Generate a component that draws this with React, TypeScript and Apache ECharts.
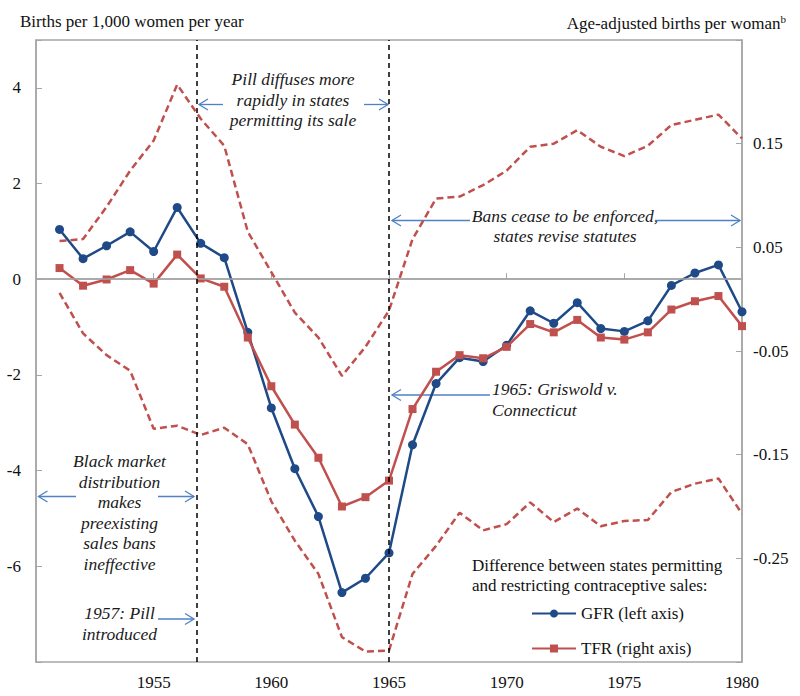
import React, { useEffect, useRef } from "react";
import * as echarts from "echarts";

const years = [1951, 1952, 1953, 1954, 1955, 1956, 1957, 1958, 1959, 1960, 1961, 1962, 1963, 1964, 1965, 1966, 1967, 1968, 1969, 1970, 1971, 1972, 1973, 1974, 1975, 1976, 1977, 1978, 1979, 1980];
const gfr = [1.04, 0.43, 0.70, 0.99, 0.58, 1.50, 0.75, 0.45, -1.11, -2.69, -3.96, -4.96, -6.55, -6.25, -5.72, -3.46, -2.18, -1.64, -1.72, -1.38, -0.66, -0.92, -0.49, -1.03, -1.09, -0.87, -0.13, 0.13, 0.30, -0.68];
const tfr = [0.030, 0.013, 0.019, 0.028, 0.015, 0.043, 0.020, 0.012, -0.037, -0.084, -0.121, -0.153, -0.200, -0.191, -0.175, -0.106, -0.070, -0.054, -0.057, -0.046, -0.024, -0.032, -0.020, -0.037, -0.039, -0.032, -0.010, -0.002, 0.003, -0.026];
const tfrUpper = [0.056, 0.058, 0.089, 0.124, 0.153, 0.207, 0.174, 0.148, 0.065, 0.026, -0.013, -0.037, -0.074, -0.046, -0.011, 0.058, 0.097, 0.099, 0.110, 0.124, 0.147, 0.150, 0.163, 0.147, 0.138, 0.148, 0.168, 0.173, 0.178, 0.155];
const tfrLower = [0.006, -0.033, -0.054, -0.069, -0.125, -0.122, -0.131, -0.124, -0.140, -0.195, -0.233, -0.265, -0.326, -0.340, -0.339, -0.265, -0.238, -0.206, -0.223, -0.217, -0.196, -0.215, -0.202, -0.219, -0.214, -0.213, -0.186, -0.178, -0.173, -0.207];
const eventYears = [1956.85, 1965];

const FONT = "Liberation Serif";
const FS = 17;
const RED = "#c0504d";
const BLUE = "#1f4a87";
const GRAY = "#a6a6a6";
const ARROW = "#4f81c7";

// right axis is drawn in hundredths, shifted by 0.05 so that ticks fall on -0.35, -0.25, ... 0.25
const toRight = (v: number) => v * 100 + 5;
const fromRight = (v: number) => (v - 5) / 100;

function arrow(x1: number, y1: number, x2: number, y2: number) {
  const d = x2 > x1 ? 1 : -1;
  return [
    { type: "line", silent: true, shape: { x1, y1, x2, y2 }, style: { stroke: ARROW, lineWidth: 1.3 } },
    {
      type: "polyline",
      silent: true,
      shape: { points: [[x2 - d * 9, y2 - 5.5], [x2, y2], [x2 - d * 9, y2 + 5.5]] },
      style: { stroke: ARROW, lineWidth: 1.3, fill: null },
    },
  ];
}

function note(text: string, x: number, y: number, align: string) {
  return {
    type: "text",
    silent: true,
    x,
    y,
    style: {
      text,
      fill: "#1a1a1a",
      fontFamily: FONT,
      fontSize: 17.5,
      fontStyle: "italic",
      lineHeight: 20.5,
      textAlign: align,
      textVerticalAlign: "top",
      verticalAlign: "top",
    },
  };
}

export default function App() {
  const ref = useRef<HTMLDivElement>(null);
  useEffect(() => {
    document.body.style.margin = "0";
    const chart = echarts.init(ref.current!, null, { renderer: "svg" });
    const pairs = (arr: number[], f?: (v: number) => number) => years.map((y, i) => [y, f ? f(arr[i]) : arr[i]]);
    const option: any = {
      animation: false,
      textStyle: { fontFamily: FONT },
      title: [
        { text: "Births per 1,000 women per year", left: 15, top: 8, textStyle: { fontFamily: FONT, fontSize: FS, fontWeight: "normal", color: "#111" } },
        {
          text: "{a|Age-adjusted births per woman}{s|b}",
          right: 9,
          top: 8,
          textStyle: {
            fontWeight: "normal",
            fontFamily: FONT,
            rich: {
              a: { fontFamily: FONT, fontSize: FS, fontWeight: "normal", color: "#111", lineHeight: 20 },
              s: { fontFamily: FONT, fontSize: 11, fontWeight: "normal", color: "#111", verticalAlign: "top", lineHeight: 20 },
            },
          },
        },
      ],
      grid: { left: 36, right: 58, top: 40, bottom: 34, show: true, borderColor: GRAY, borderWidth: 1.5 },
      legend: {
        data: ["GFR (left axis)", "TFR (right axis)"],
        orient: "vertical",
        left: 526,
        top: 600,
        itemWidth: 44,
        itemHeight: 10,
        itemGap: 18,
        textStyle: { fontFamily: FONT, fontSize: FS, color: "#111" },
      },
      xAxis: {
        type: "value",
        min: 1950,
        max: 1980,
        interval: 5,
        axisLine: { show: true, lineStyle: { color: GRAY, width: 1.5 } },
        axisTick: { show: true, inside: true, length: 6, lineStyle: { color: GRAY } },
        axisLabel: { fontFamily: FONT, fontSize: FS, color: "#111", margin: 12, formatter: (v: number) => (v === 1950 ? "" : String(v)) },
        splitLine: { show: false },
      },
      yAxis: [
        {
          type: "value",
          min: -8,
          max: 5,
          interval: 2,
          axisLine: { show: true, lineStyle: { color: GRAY, width: 1.5 } },
          axisTick: { show: true, inside: true, length: 6, lineStyle: { color: GRAY } },
          axisLabel: { fontFamily: FONT, fontSize: FS, color: "#111", margin: 15, formatter: (v: number) => (v === -8 || v === 5 ? "" : String(v)) },
          splitLine: { show: false },
        },
        {
          type: "value",
          position: "right",
          min: -30,
          max: 30,
          interval: 10,
          axisLine: { show: true, lineStyle: { color: GRAY, width: 1.5 } },
          axisTick: { show: true, inside: true, length: 6, lineStyle: { color: GRAY } },
          axisLabel: {
            fontFamily: FONT,
            fontSize: FS,
            color: "#111",
            margin: 11,
            formatter: (v: number) => (v === -30 || v === 30 ? "" : fromRight(v).toFixed(2)),
          },
          splitLine: { show: false },
        },
      ],
      series: [
        {
          name: "upper",
          type: "line",
          yAxisIndex: 1,
          data: pairs(tfrUpper, toRight),
          showSymbol: false,
          symbol: "none",
          lineStyle: { color: RED, width: 2.5, type: [7, 4] },
          z: 2,
          silent: true,
        },
        {
          name: "lower",
          type: "line",
          yAxisIndex: 1,
          data: pairs(tfrLower, toRight),
          showSymbol: false,
          symbol: "none",
          lineStyle: { color: RED, width: 2.5, type: [7, 4] },
          z: 2,
          silent: true,
        },
        {
          name: "GFR (left axis)",
          type: "line",
          yAxisIndex: 0,
          data: pairs(gfr),
          symbol: "circle",
          symbolSize: 9,
          itemStyle: { color: BLUE },
          lineStyle: { color: BLUE, width: 2.5 },
          z: 3,
          markLine: {
            silent: true,
            symbol: "none",
            label: { show: false },
            data: [
              { yAxis: 0, lineStyle: { color: GRAY, width: 1.5, type: "solid" } },
              ...eventYears.map((y) => ({ xAxis: y, lineStyle: { color: "#000", width: 1.5, type: [5, 4] } })),
            ],
          },
        },
        {
          name: "TFR (right axis)",
          type: "line",
          yAxisIndex: 1,
          data: pairs(tfr, toRight),
          symbol: "rect",
          symbolSize: 8,
          itemStyle: { color: RED },
          lineStyle: { color: RED, width: 2.5 },
          z: 4,
        },
      ],
      graphic: [
        note("Pill diffuses more\nrapidly in states\npermitting its sale", 293, 69, "center"),
        ...arrow(223, 104.5, 199, 104.5),
        ...arrow(364, 104.5, 388, 104.5),
        note("Bans cease to be enforced,\nstates revise statutes", 565, 205.5, "center"),
        ...arrow(470, 220.5, 392, 220.5),
        ...arrow(655, 220.5, 740, 220.5),
        note("1965: Griswold v.\nConnecticut", 492, 379, "left"),
        ...arrow(490, 395, 392, 395),
        note("Black market\ndistribution\nmakes\npreexisting\nsales bans\nineffective", 119.5, 451, "center"),
        ...arrow(76, 496.5, 38.5, 496.5),
        ...arrow(158, 496.5, 194, 496.5),
        note("1957: Pill\nintroduced", 119.5, 603, "center"),
        ...arrow(158, 619, 194, 619),
        {
          type: "text",
          silent: true,
          x: 472,
          y: 555,
          style: {
            text: "Difference between states permitting\nand restricting contraceptive sales:",
            fill: "#111",
            fontFamily: FONT,
            fontSize: FS,
            lineHeight: 20,
            textAlign: "left",
            textVerticalAlign: "top",
            verticalAlign: "top",
          },
        },
      ],
    };
    chart.setOption(option);
    return () => chart.dispose();
  }, []);
  return <div ref={ref} style={{ width: 800, height: 696 }} />;
}
